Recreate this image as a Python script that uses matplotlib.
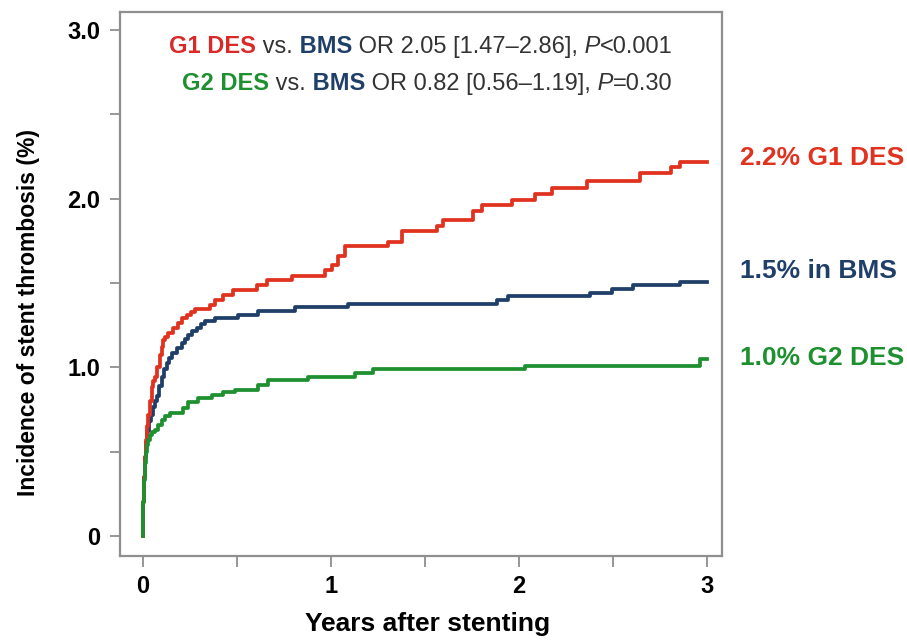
import numpy as np
import matplotlib.pyplot as plt

plt.rcParams['font.family'] = ['Liberation Sans', 'DejaVu Sans']

# cumulative incidence (%), years after stenting
years_g1 = [0, 0.003, 0.006, 0.010, 0.016, 0.022, 0.028, 0.037, 0.046, 0.055,
            0.064, 0.077, 0.090, 0.100, 0.108, 0.120, 0.135, 0.160, 0.188,
            0.210, 0.232, 0.255, 0.277, 0.356, 0.383, 0.427, 0.480, 0.605,
            0.658, 0.791, 0.968, 1.004, 1.039, 1.074, 1.305, 1.376, 1.565,
            1.598, 1.757, 1.802, 1.961, 2.085, 2.174, 2.360, 2.644, 2.810,
            2.856, 3.0]
inc_g1 = [0, 0.20, 0.35, 0.47, 0.57, 0.65, 0.72, 0.80, 0.886, 0.92,
          0.945, 1.00, 1.074, 1.12, 1.163, 1.18, 1.203, 1.235, 1.262,
          1.29, 1.312, 1.33, 1.345, 1.37, 1.40, 1.43, 1.46, 1.49,
          1.515, 1.539, 1.579, 1.608, 1.658, 1.717, 1.745, 1.806, 1.835,
          1.875, 1.925, 1.964, 1.994, 2.03, 2.063, 2.103, 2.152, 2.19,
          2.22, 2.22]

years_bms = [0, 0.003, 0.006, 0.010, 0.016, 0.024, 0.033, 0.044, 0.055, 0.064,
             0.073, 0.086, 0.099, 0.112, 0.126, 0.140, 0.152, 0.180, 0.206,
             0.225, 0.241, 0.262, 0.285, 0.310, 0.330, 0.383, 0.507, 0.613,
             0.809, 1.092, 1.881, 1.943, 2.378, 2.493, 2.608, 2.856, 3.0]
inc_bms = [0, 0.20, 0.35, 0.47, 0.56, 0.62, 0.68, 0.72, 0.767, 0.80,
           0.827, 0.89, 0.945, 0.99, 1.025, 1.055, 1.084, 1.115, 1.144,
           1.17, 1.193, 1.215, 1.233, 1.255, 1.272, 1.292, 1.312, 1.331,
           1.357, 1.377, 1.40, 1.424, 1.44, 1.465, 1.487, 1.505, 1.505]

years_g2 = [0, 0.002, 0.005, 0.010, 0.016, 0.022, 0.028, 0.037, 0.050, 0.064,
            0.080, 0.099, 0.120, 0.144, 0.214, 0.241, 0.294, 0.365, 0.427,
            0.489, 0.613, 0.667, 0.879, 1.128, 1.225, 2.032, 2.963, 3.0]
inc_g2 = [0, 0.20, 0.33, 0.43, 0.50, 0.54, 0.57, 0.60, 0.615, 0.629,
          0.66, 0.688, 0.71, 0.728, 0.758, 0.797, 0.817, 0.837, 0.851,
          0.866, 0.896, 0.926, 0.945, 0.966, 0.989, 1.005, 1.049, 1.049]

end_labels = ["2.2% G1 DES", "1.5% in BMS", "1.0% G2 DES"]
xtick_vals = [0, 0.5, 1, 1.5, 2, 2.5, 3]
xtick_text = ["0", "", "1", "", "2", "", "3"]
ytick_vals = [0, 0.5, 1, 1.5, 2, 2.5, 3]
ytick_text = ["0", "", "1.0", "", "2.0", "", "3.0"]

RED = "#e0321f"
BLUE = "#1f3f68"
GREEN = "#1e9030"
GREY = "#8f8f8f"

fig = plt.figure(figsize=(9.07, 6.41), dpi=100)
ax = fig.add_axes([0.1323, 0.1326, 0.6637, 0.8487])

ax.step(years_bms, inc_bms, where="post", color=BLUE, lw=2.7)
ax.step(years_g1, inc_g1, where="post", color=RED, lw=2.7)
ax.step(years_g2, inc_g2, where="post", color=GREEN, lw=2.7)

ax.set_xlim(-0.122, 3.08)
ax.set_ylim(-0.119, 3.107)
ax.set_xticks(xtick_vals)
ax.set_xticklabels(xtick_text)
ax.set_yticks(ytick_vals)
ax.set_yticklabels(ytick_text)
for lab in ax.get_xticklabels() + ax.get_yticklabels():
    lab.set_fontweight("bold")
    lab.set_fontsize(17)
ax.tick_params(axis="x", length=8, width=1.3, color=GREY, pad=6)
ax.tick_params(axis="y", length=7, width=1.3, color=GREY, pad=7)
for sp in ax.spines.values():
    sp.set_color(GREY)
    sp.set_linewidth(1.6)

ax.set_xlabel("Years after stenting", fontsize=19, fontweight="bold")
ax.xaxis.set_label_coords(0.511, -0.103)
ax.set_ylabel("Incidence of stent thrombosis (%)", fontsize=16.5, fontweight="bold")
ax.yaxis.set_label_coords(-0.133, 0.447)

# end-of-curve labels
ax.text(1.03, 0.719, end_labels[0], color=RED, fontsize=19, fontweight="bold",
        transform=ax.transAxes, va="baseline", clip_on=False)
ax.text(1.03, 0.511, end_labels[1], color=BLUE, fontsize=19, fontweight="bold",
        transform=ax.transAxes, va="baseline", clip_on=False)
ax.text(1.03, 0.351, end_labels[2], color=GREEN, fontsize=19, fontweight="bold",
        transform=ax.transAxes, va="baseline", clip_on=False)


def rich_line(pieces, x_right, y, size=17):
    first = prev = None
    for s, col, wt, st in pieces:
        kw = dict(color=col, fontweight=wt, fontstyle=st, fontsize=size)
        if prev is None:
            t = ax.text(0, y, s, transform=ax.transAxes, va="baseline", **kw)
            first = t
        else:
            t = ax.annotate(s, xy=(1, 0), xycoords=prev, va="bottom", **kw)
        prev = t
    fig.canvas.draw()
    bb = prev.get_window_extent()
    xr = ax.transAxes.transform((x_right, y))[0]
    x0 = ax.transAxes.transform((0, y))[0] + (xr - bb.x1)
    first.set_x(ax.transAxes.inverted().transform((x0, 0))[0])


rich_line([("G1 DES", "#d92a2a", "bold", "normal"),
           (" vs.", "#333333", "normal", "normal"),
           (" BMS", BLUE, "bold", "normal"),
           (" OR 2.05 [1.47\u20132.86],", "#333333", "normal", "normal"),
           (" P", "#333333", "normal", "italic"),
           ("<0.001", "#333333", "normal", "normal")], 0.9186, 0.924)
rich_line([("G2 DES", GREEN, "bold", "normal"),
           (" vs.", "#333333", "normal", "normal"),
           (" BMS", BLUE, "bold", "normal"),
           (" OR 0.82 [0.56\u20131.19],", "#333333", "normal", "normal"),
           (" P", "#333333", "normal", "italic"),
           ("=0.30", "#333333", "normal", "normal")], 0.9186, 0.857)

fig.savefig("out.png", dpi=100)
